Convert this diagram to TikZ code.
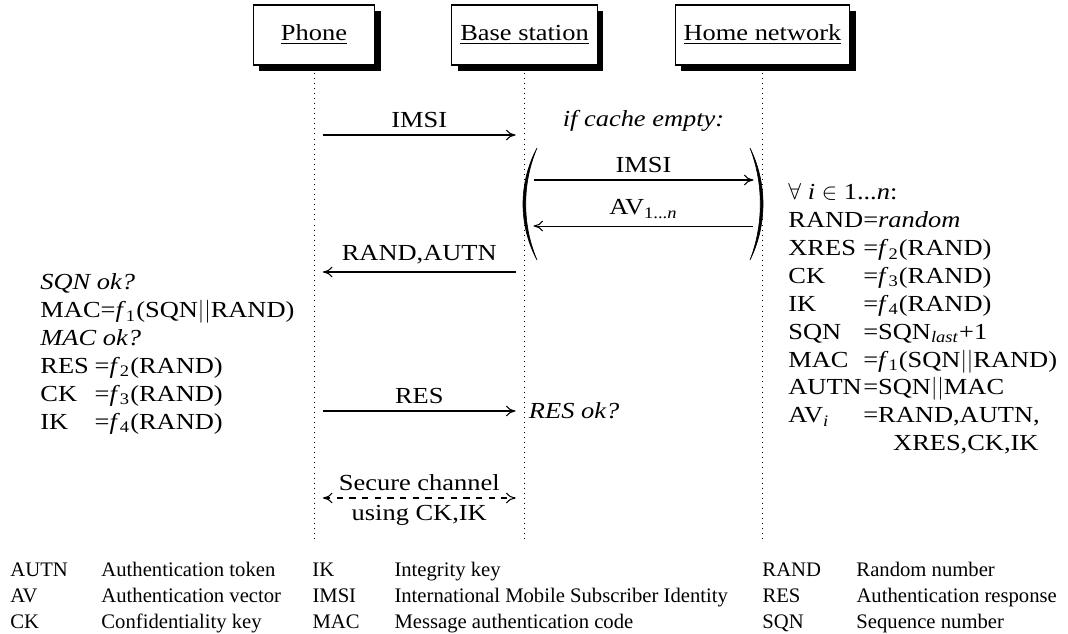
\documentclass[tikz,border=0pt]{standalone}
\usepackage{fontspec}
\setmainfont{Liberation Serif}
\newfontfamily\widefont{Liberation Serif}[FakeStretch=1.15]
\usetikzlibrary{arrows.meta, shadows}

\begin{document}
\begin{tikzpicture}[
    font=\widefont\fontsize{10.9}{13.2}\selectfont,
    actor/.style={draw, fill=white, line width=0.5pt, minimum width=2.03cm, minimum height=1cm, inner xsep=0.14cm,
        drop shadow={shadow xshift=0.1cm, shadow yshift=-0.1cm, fill=black, opacity=1}},
    lifeline/.style={dotted, line width=0.4pt},
    msg/.style={-{To[length=4.5pt,width=5pt]}, line width=0.5pt},
    secure/.style={{To[length=4.5pt,width=5pt]}-{To[length=4.5pt,width=5pt]}, dashed, line width=0.5pt},
    paren/.style={line width=0.3pt},
    block/.style={anchor=base west, inner sep=0pt}
]
    \useasboundingbox (0,0) rectangle (17.8,-10.55);

    % participants
    \node[actor] (phone) at (5.233,-0.583) {\underline{Phone}};
    \node[actor] (base) at (8.742,-0.583) {\underline{Base station}};
    \node[actor] (home) at (12.708,-0.583) {\underline{Home network}};

    \foreach \who in {phone, base, home}
        \draw[lifeline] ([yshift=-0.12cm]\who.south) -- (\who |- 0,-9);

    % identification and vector request
    \draw[msg] ([xshift=0.15cm]phone |- 0,-2.25) -- ([xshift=-0.15cm]base |- 0,-2.25) node[midway, above] {IMSI};
    \node[anchor=base] (cache) at (10.725,-2.1) {\textit{if cache empty:}};
    \draw[msg] ([xshift=0.15cm]base |- 0,-3) -- ([xshift=-0.15cm]home |- 0,-3) node[midway, above] {IMSI};
    \draw[msg] ([xshift=-0.15cm]home |- 0,-3.767) -- ([xshift=0.15cm]base |- 0,-3.767) node[midway, above] {AV\textsubscript{1...\textit{n}}};
    \draw[msg] ([xshift=-0.15cm]base |- 0,-4.533) -- ([xshift=0.15cm]phone |- 0,-4.533) node[midway, above] {RAND,AUTN};

    % brackets round the cache request
    \filldraw[paren] (8.95,-2.467) .. controls (8.639,-3.05) and (8.639,-3.75) .. (8.95,-4.333)
        .. controls (8.699,-3.75) and (8.699,-3.05) .. cycle;
    \filldraw[paren] (12.5,-2.467) .. controls (12.789,-3.05) and (12.789,-3.75) .. (12.5,-4.333)
        .. controls (12.729,-3.75) and (12.729,-3.05) .. cycle;

    % home network computes the vectors
    \node[block] (vectors) at (13.133,-3.333) {\begin{tabular}[t]{@{}l@{}l@{}}
        \multicolumn{2}{@{}l@{}}{$\forall$ \textit{i} $\in$ 1...\textit{n}:}\\
        RAND&=\textit{random}\\
        XRES\kern.25em&=\textit{f}\textsubscript{2}(RAND)\\
        CK&=\textit{f}\textsubscript{3}(RAND)\\
        IK&=\textit{f}\textsubscript{4}(RAND)\\
        SQN&=SQN\textsubscript{\textit{last}}+1\\
        MAC&=\textit{f}\textsubscript{1}(SQN$||$RAND)\\
        AUTN&=SQN$||$MAC\\
        AV\textsubscript{\textit{i}}&=RAND,AUTN,\\
        &\hspace{1.3em}XRES,CK,IK
    \end{tabular}};

    % phone checks and answers
    \node[block] (checks) at (0.667,-4.833) {\begin{tabular}[t]{@{}l@{}l@{}}
        \multicolumn{2}{@{}l@{}}{\textit{SQN ok?}}\\
        \multicolumn{2}{@{}l@{}}{MAC=\textit{f}\textsubscript{1}(SQN$||$RAND)}\\
        \multicolumn{2}{@{}l@{}}{\textit{MAC ok?}}\\
        RES\kern.25em&=\textit{f}\textsubscript{2}(RAND)\\
        CK&=\textit{f}\textsubscript{3}(RAND)\\
        IK&=\textit{f}\textsubscript{4}(RAND)
    \end{tabular}};

    \draw[msg] ([xshift=0.15cm]phone |- 0,-6.85) -- ([xshift=-0.15cm]base |- 0,-6.85) node[midway, above] {RES};
    \node[right, xshift=-0.05cm] (resok) at (base |- 0,-6.85) {\textit{RES ok?}};

    \draw[secure] ([xshift=0.15cm]phone |- 0,-8.3) -- ([xshift=-0.15cm]base |- 0,-8.3)
        node[midway, above] {Secure channel} node[midway, below] {using CK,IK};

    % legend
    \node[block, font=\normalfont\fontsize{9.8}{12.5}\selectfont] (legend) at (0.167,-9.6) {%
    \begin{tabular}[t]{@{}p{1.517cm}@{}p{3.517cm}@{}p{1.367cm}@{}p{6.133cm}@{}p{1.567cm}@{}l@{}}
        AUTN & Authentication token & IK & Integrity key & RAND & Random number\\
        AV & Authentication vector & IMSI & International Mobile Subscriber Identity & RES & Authentication response\\
        CK & Confidentiality key & MAC & Message authentication code & SQN & Sequence number
    \end{tabular}};
\end{tikzpicture}
\end{document}
